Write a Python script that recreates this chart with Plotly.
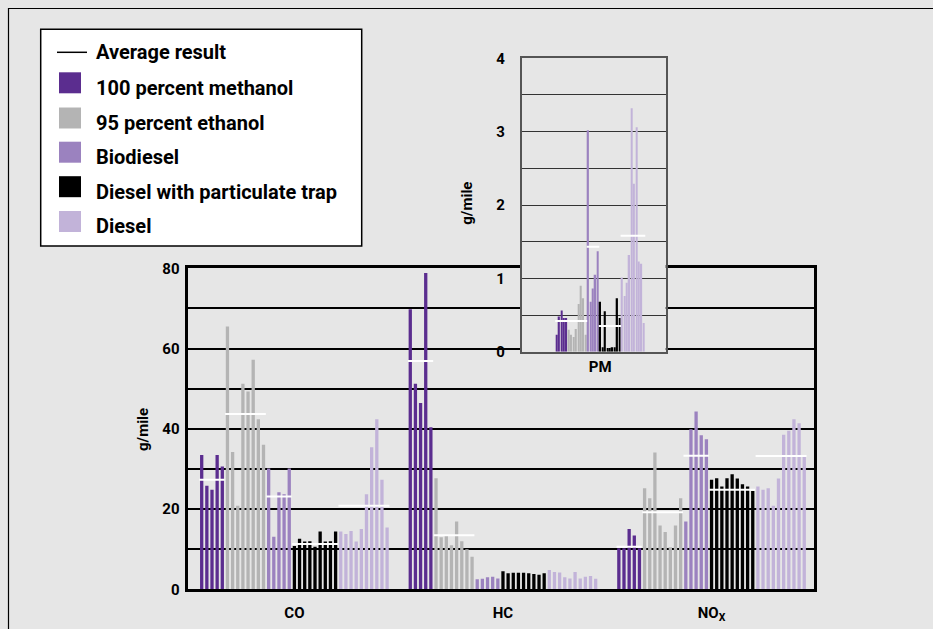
import plotly.graph_objects as go

# ---------------- data ----------------
categories = ["CO", "HC", "NO<sub>X</sub>"]
fuels = ["100 percent methanol", "95 percent ethanol", "Biodiesel",
         "Diesel with particulate trap", "Diesel"]
colors = ["#5b2d8f", "#b4b4b4", "#9b82bf", "#000000", "#c2b3d9"]

co_methanol = [33.5, 25.8, 24.8, 33.5, 30.6]
co_ethanol = [65.5, 34.2, 20.8, 51.2, 49.3, 57.2, 42.4, 36.0]
co_biodiesel = [30.1, 13.1, 24.2, 23.7, 30.1]
co_trap = [10.8, 12.6, 11.9, 12.0, 10.6, 14.4, 11.9, 12.0, 14.4]
co_diesel = [14.4, 13.8, 14.5, 11.9, 15.0, 23.7, 35.4, 42.4, 27.3, 15.4]

hc_methanol = [69.8, 51.2, 46.4, 78.8, 40.4]
hc_ethanol = [27.7, 13.0, 13.3, 11.0, 16.9, 12.0, 10.0, 8.1]
hc_biodiesel = [2.5, 2.6, 3.0, 3.1, 2.7]
hc_trap = [4.5, 4.0, 4.1, 4.1, 4.1, 4.0, 3.8, 3.6, 4.0]
hc_diesel = [4.8, 4.3, 4.2, 3.0, 2.7, 4.3, 2.7, 3.1, 3.3, 2.6]

nox_methanol = [10.2, 10.2, 15.0, 13.4, 10.2]
nox_ethanol = [25.2, 22.7, 34.1, 15.9, 14.3, 10.5, 15.9, 22.7]
nox_biodiesel = [16.9, 39.9, 44.3, 38.4, 37.4]
nox_trap = [27.3, 27.7, 25.6, 27.7, 28.7, 27.6, 26.2, 25.6, 24.5]
nox_diesel = [25.6, 24.8, 25.2, 20.8, 27.6, 38.5, 39.5, 42.4, 41.4, 33.1]

avg_co = [27.3, 43.7, 23.1, 11.3, 20.8]
avg_hc = [56.9, 13.5, None, None, None]
avg_nox = [10.6, 19.2, 33.3, 24.8, 33.2]

pm_methanol = [0.23, 0.48, 0.56, 0.46, 0.46]
pm_ethanol = [0.30, 0.23, 0.20, 0.31, 0.65, 0.90, 0.73, 0.23]
pm_biodiesel = [3.02, 0.68, 0.86, 1.05, 1.37]
pm_trap = [0.68, 0.06, 0.55, 0.05, 0.05, 0.06, 0.06, 0.73, 0.46]
pm_diesel = [1.01, 0.76, 0.94, 1.32, 3.32, 2.29, 3.06, 1.23, 1.20, 0.39]
avg_pm = [0.42, 0.42, 1.43, 0.35, 1.58]

main_ticks = [0, 20, 40, 60, 80]
pm_ticks = [0, 1, 2, 3, 4]

# ---------------- assembly ----------------
W, H = 933, 629
BG = "#e6e6e6"
FONT = "Roboto, Arial, sans-serif"
GROUP_STEP = 40.5

groups = [
    [co_methanol, co_ethanol, co_biodiesel, co_trap, co_diesel],
    [hc_methanol, hc_ethanol, hc_biodiesel, hc_trap, hc_diesel],
    [nox_methanol, nox_ethanol, nox_biodiesel, nox_trap, nox_diesel],
]
avgs = [avg_co, avg_hc, avg_nox]
pm_series = [pm_methanol, pm_ethanol, pm_biodiesel, pm_trap, pm_diesel]

fig = go.Figure()

# main bars
for f, name in enumerate(fuels):
    xs, ys = [], []
    for g, grp in enumerate(groups):
        start = sum(len(s) for s in grp[:f])
        for i, v in enumerate(grp[f]):
            xs.append(g * GROUP_STEP + start + i)
            ys.append(v)
    fig.add_trace(go.Bar(x=xs, y=ys, name=name, marker_color=colors[f],
                         marker_line_width=0, width=0.64, showlegend=False,
                         xaxis="x", yaxis="y"))

# main average lines
ax, ay = [], []
for g, grp in enumerate(groups):
    for f in range(len(fuels)):
        a = avgs[g][f]
        if a is None:
            continue
        start = sum(len(s) for s in grp[:f])
        x0 = g * GROUP_STEP + start - 0.45
        x1 = g * GROUP_STEP + start + len(grp[f]) - 0.55
        ax += [x0, x1, None]
        ay += [a, a, None]
fig.add_trace(go.Scatter(x=ax, y=ay, mode="lines", line=dict(color="white", width=2),
                         showlegend=False, hoverinfo="skip", xaxis="x", yaxis="y"))

# inset bars
pos = 0
pax, pay = [], []
for f, name in enumerate(fuels):
    xs = list(range(pos, pos + len(pm_series[f])))
    fig.add_trace(go.Bar(x=xs, y=pm_series[f], marker_color=colors[f],
                         marker_line_width=0, width=0.6, showlegend=False,
                         xaxis="x2", yaxis="y2"))
    pax += [pos - 0.6, pos + len(pm_series[f]) - 0.4, None]
    pay += [avg_pm[f], avg_pm[f], None]
    pos += len(pm_series[f])
fig.add_trace(go.Scatter(x=pax, y=pay, mode="lines", line=dict(color="white", width=2),
                         showlegend=False, hoverinfo="skip", xaxis="x2", yaxis="y2"))
n_pm = pos

def px(x):
    return x / W

def py(y):
    return 1 - y / H

# main plot pixel box
L, R, T, B = 188.3, 814.0, 268.3, 589.3
# inset pixel box
IL, IR, IT, IB = 521.7, 665.7, 58.3, 351.7

pitch = 5.15
x_lo = -(201.7 - L) / pitch
x_hi = x_lo + (R - L) / pitch
centers = [g * GROUP_STEP + (sum(len(s) for s in groups[g]) - 1) / 2 for g in range(3)]

ipitch = 2.42
ix_lo = -(556.7 - IL) / ipitch
ix_hi = ix_lo + (IR - IL) / ipitch

tickfont = dict(family=FONT, size=15, color="black", weight="bold")

fig.update_layout(
    width=W, height=H, margin=dict(l=0, r=0, t=0, b=0),
    paper_bgcolor=BG, plot_bgcolor=BG, barmode="overlay", showlegend=False,
    font=dict(family=FONT, color="black"),
    xaxis=dict(domain=[px(L), px(R)], range=[x_lo, x_hi], tickvals=centers,
               ticktext=categories, ticks="outside", ticklen=8,
               tickcolor="rgba(0,0,0,0)", tickfont=tickfont, showline=True,
               linecolor="black", linewidth=3, mirror=True, showgrid=False,
               zeroline=False, anchor="y", automargin=False, fixedrange=True),
    yaxis=dict(domain=[py(B), py(T)], range=[0, 80], tickvals=main_ticks,
               ticks="outside", ticklen=3, tickcolor="rgba(0,0,0,0)",
               tickfont=tickfont, showgrid=True, gridcolor="black", gridwidth=2,
               minor=dict(dtick=10, tick0=0, showgrid=True, gridcolor="black",
                          gridwidth=2),
               showline=True, linecolor="black", linewidth=2.5, mirror=True,
               zeroline=False, anchor="x", automargin=False, fixedrange=True),
    xaxis2=dict(domain=[px(IL), px(IR)], range=[ix_lo, ix_hi],
                tickvals=[(n_pm - 1) / 2], ticktext=["PM"], ticks="outside",
                ticklen=1, tickcolor="rgba(0,0,0,0)", tickfont=tickfont,
                showline=True, linecolor="#555555", linewidth=1.5, mirror=True,
                showgrid=False, zeroline=False, anchor="y2", automargin=False,
                fixedrange=True),
    yaxis2=dict(domain=[py(IB), py(IT)], range=[0, 4], tickvals=pm_ticks,
                ticks="outside", ticklen=12, tickcolor="rgba(0,0,0,0)",
                tickfont=tickfont, showgrid=True, gridcolor="#333333",
                gridwidth=1.2,
                minor=dict(dtick=0.5, tick0=0, showgrid=True,
                           gridcolor="#333333", gridwidth=1.2),
                showline=True, linecolor="#555555", linewidth=1.5, mirror=True,
                zeroline=False, anchor="x2", automargin=False, fixedrange=True),
)

shapes = []
# inset background covering the main grid
shapes.append(dict(type="rect", xref="x2 domain", yref="y2 domain", x0=0, x1=1,
                   y0=0, y1=1, fillcolor=BG, line=dict(width=0), layer="below"))
# page border (top and left)
shapes.append(dict(type="line", xref="paper", yref="paper", x0=px(8), x1=1,
                   y0=py(8.5), y1=py(8.5), line=dict(color="black", width=1.2)))
shapes.append(dict(type="line", xref="paper", yref="paper", x0=px(8.5), x1=px(8.5),
                   y0=py(8), y1=0, line=dict(color="black", width=1.2)))
# legend box
shapes.append(dict(type="rect", xref="paper", yref="paper", x0=px(40.7), x1=px(361.7),
                   y0=py(246), y1=py(29.3), fillcolor="white",
                   line=dict(color="black", width=1.5), layer="above"))
shapes.append(dict(type="line", xref="paper", yref="paper", x0=px(57), x1=px(87),
                   y0=py(52.3), y1=py(52.3), line=dict(color="black", width=1.5),
                   layer="above"))

annotations = []
legend_labels = ["Average result"] + fuels
text_y = [52.3, 88.3, 122.7, 156.7, 191.7, 225.7]
square_y = [82.8, 118.0, 152.2, 186.7, 221.5]
for k, lab in enumerate(legend_labels):
    annotations.append(dict(xref="paper", yref="paper", x=px(94), y=py(text_y[k]),
                            xanchor="left", yanchor="middle", text=lab,
                            showarrow=False,
                            font=dict(family=FONT, size=20, color="black",
                                      weight="bold")))
for f in range(len(fuels)):
    shapes.append(dict(type="rect", xref="paper", yref="paper", x0=px(59), x1=px(81),
                       y0=py(square_y[f] + 10.5), y1=py(square_y[f] - 10.5),
                       fillcolor=colors[f], line=dict(width=0), layer="above"))

# axis titles
annotations.append(dict(xref="paper", yref="paper", x=px(143), y=py(430),
                        text="g/mile", textangle=-90, showarrow=False,
                        xanchor="center", yanchor="middle",
                        font=dict(family=FONT, size=15, color="black", weight="bold")))
annotations.append(dict(xref="paper", yref="paper", x=px(466.7), y=py(203),
                        text="g/mile", textangle=-90, showarrow=False,
                        xanchor="center", yanchor="middle",
                        font=dict(family=FONT, size=15, color="black", weight="bold")))

fig.update_layout(shapes=shapes, annotations=annotations)
fig.write_html("out.html")
